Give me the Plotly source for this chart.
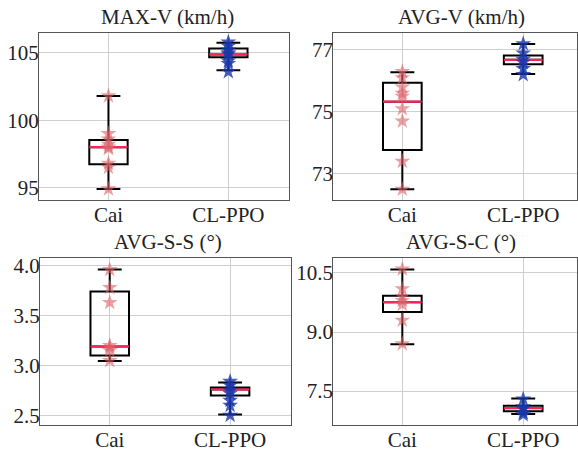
import plotly.graph_objects as go

groups = ["Cai", "CL-PPO"]
titles = ["MAX-V (km/h)", "AVG-V (km/h)", "AVG-S-S (°)", "AVG-S-C (°)"]

# box stats per panel: [lower whisker, q1, median, q3, upper whisker] for Cai, CL-PPO
maxv_cai = [94.9, 96.74, 98.0, 98.53, 101.8]
maxv_cl = [103.7, 104.68, 104.88, 105.32, 105.74]
avgv_cai = [72.5, 73.77, 75.33, 75.94, 76.28]
avgv_cl = [76.22, 76.54, 76.68, 76.82, 77.19]
avgss_cai = [3.045, 3.10, 3.19, 3.74, 3.96]
avgss_cl = [2.51, 2.70, 2.76, 2.78, 2.83]
avgsc_cai = [8.69, 9.51, 9.76, 9.92, 10.59]
avgsc_cl = [6.92, 6.99, 7.07, 7.13, 7.31]

# individual runs (star markers)
maxv_cai_pts = [101.8, 99.0, 98.6, 98.2, 98.0, 97.9, 96.8, 96.5, 94.9]
maxv_cl_pts = [105.8, 105.5, 105.2, 105.0, 104.9, 104.4, 104.2, 103.6]
avgv_cai_pts = [76.3, 76.1, 75.8, 75.6, 75.5, 75.1, 74.7, 73.4, 72.5]
avgv_cl_pts = [77.2, 76.9, 76.7, 76.6, 76.4, 76.2]
avgss_cai_pts = [3.96, 3.78, 3.63, 3.2, 3.18, 3.15, 3.05]
avgss_cl_pts = [2.84, 2.8, 2.75, 2.72, 2.65, 2.6, 2.5]
avgsc_cai_pts = [10.6, 10.1, 9.9, 9.8, 9.7, 9.3, 8.7]
avgsc_cl_pts = [7.3, 7.1, 7.05, 6.95, 6.9]

yticks = [[95, 100, 105], [73, 75, 77], [2.5, 3.0, 3.5, 4.0], [7.5, 9.0, 10.5]]
yticktext = [["95", "100", "105"], ["73", "75", "77"], ["2.5", "3.0", "3.5", "4.0"], ["7.5", "9.0", "10.5"]]
yranges = [[94.05, 106.5], [72.14, 77.56], [2.40, 4.08], [6.63, 10.89]]

panels = [
    (maxv_cai, maxv_cl, maxv_cai_pts, maxv_cl_pts),
    (avgv_cai, avgv_cl, avgv_cai_pts, avgv_cl_pts),
    (avgss_cai, avgss_cl, avgss_cai_pts, avgss_cl_pts),
    (avgsc_cai, avgsc_cl, avgsc_cai_pts, avgsc_cl_pts),
]

W, H = 578, 457
# pixel boxes of plot areas: (x0, x1, y0, y1)
pix = [(39, 290, 29, 199), (334, 578, 29, 199), (40, 292, 257, 427), (334, 578, 257, 427)]
xranges = [[0.42, 2.51], [0.43, 2.445], [0.42, 2.51], [0.43, 2.445]]
title_cx = [168, 462, 168, 462]

FONT = "Liberation Serif"
FS = 21
star_colors = ["rgba(222,95,100,0.6)", "rgba(25,55,170,0.8)"]
median_color = "rgb(255,35,90)"
BW = 0.32

fig = go.Figure()
layout = dict(width=W, height=H, margin=dict(l=0, r=0, t=0, b=0),
              paper_bgcolor="white", plot_bgcolor="white", showlegend=False,
              font=dict(family=FONT, size=FS, color="#222"))
annotations = []
for i, (cai, cl, cai_pts, cl_pts) in enumerate(panels):
    n = i + 1
    xa = "x" if n == 1 else f"x{n}"
    ya = "y" if n == 1 else f"y{n}"
    for j, (st, pts) in enumerate([(cai, cai_pts), (cl, cl_pts)]):
        pos = j + 1
        fig.add_trace(go.Box(
            x=[pos], lowerfence=[st[0]], q1=[st[1]], median=[st[2]], q3=[st[3]], upperfence=[st[4]],
            width=BW, whiskerwidth=0.62, fillcolor="rgba(0,0,0,0)",
            line=dict(color="black", width=2), boxpoints=False,
            xaxis=xa, yaxis=ya, hoverinfo="skip"))
        fig.add_trace(go.Scatter(
            x=[pos - BW / 2, pos + BW / 2], y=[st[2], st[2]], mode="lines",
            line=dict(color=median_color, width=2.2), xaxis=xa, yaxis=ya, hoverinfo="skip"))
        fig.add_trace(go.Scatter(
            x=[pos] * len(pts), y=pts, mode="markers",
            marker=dict(symbol="star", size=12, color=star_colors[j], line=dict(width=0)),
            xaxis=xa, yaxis=ya, hoverinfo="skip"))
    x0, x1, y0, y1 = pix[i]
    axx = dict(domain=[x0 / W, x1 / W], range=xranges[i], anchor=ya,
               tickvals=[1, 2], ticktext=groups, showgrid=True, gridcolor="#cfcfcf", gridwidth=1,
               zeroline=False, showline=True, linecolor="#555", linewidth=1.2, mirror=True,
               ticks="", ticklabelstandoff=-5,
               tickfont=dict(family=FONT, size=FS, color="#222"))
    axy = dict(domain=[1 - y1 / H, 1 - y0 / H], range=yranges[i], anchor=xa,
               tickvals=yticks[i], ticktext=yticktext[i], showgrid=True, gridcolor="#cfcfcf", gridwidth=1,
               zeroline=False, showline=True, linecolor="#555", linewidth=1.2, mirror=True,
               ticks="", ticklabelstandoff=-5,
               tickfont=dict(family=FONT, size=FS, color="#222"))
    layout["xaxis" if n == 1 else f"xaxis{n}"] = axx
    layout["yaxis" if n == 1 else f"yaxis{n}"] = axy
    annotations.append(dict(text=titles[i], x=title_cx[i] / W, y=1 - y0 / H, xref="paper", yref="paper",
                            xanchor="center", yanchor="bottom", yshift=2, showarrow=False,
                            font=dict(family=FONT, size=FS, color="#222")))
layout["annotations"] = annotations
fig.update_layout(**layout)
fig.write_html("out.html", config={"displayModeBar": False},
               post_script="document.body.style.margin='0';")
